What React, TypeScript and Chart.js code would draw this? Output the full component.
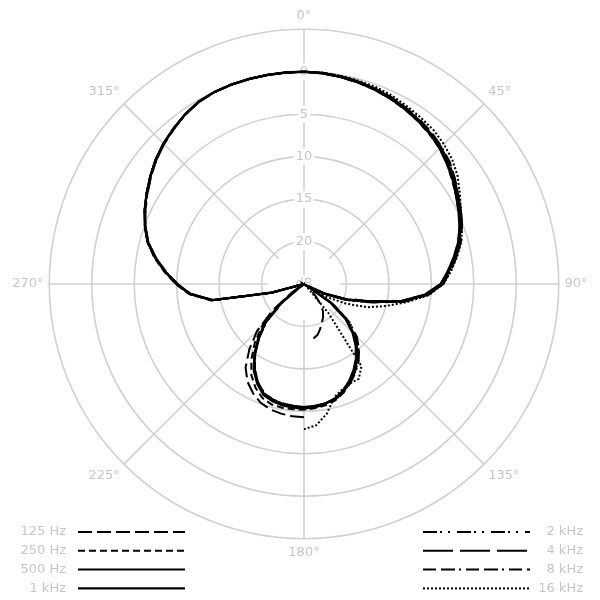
import { useEffect, useRef } from "react";
import { Chart, registerables, type ChartConfiguration, type Plugin } from "chart.js";

Chart.register(...registerables);

const FONT = "'DejaVu Sans', sans-serif";
const GRID = "#d0d0d0";
const TEXT = "#c6c6c6";

// bearing of each sample, clockwise from the front of the microphone
const BEARINGS = [
  "0°", "5°", "10°", "15°", "20°", "25°", "30°", "35°", "40°", "45°", "50°", "55°",
  "60°", "65°", "70°", "75°", "80°", "85°", "90°", "95°", "100°", "105°", "110°", "115°",
  "120°", "125°", "130°", "135°", "140°", "145°", "150°", "155°", "160°", "165°", "170°", "175°",
  "180°", "185°", "190°", "195°", "200°", "205°", "210°", "215°", "220°", "225°", "230°", "235°",
  "240°", "245°", "250°", "255°", "260°", "265°", "270°", "275°", "280°", "285°", "290°", "295°",
  "300°", "305°", "310°", "315°", "320°", "325°", "330°", "335°", "340°", "345°", "350°", "355°",
];

// relative level in dB; -25 is the floor of the plot (centre)
const HZ_125 = [
  0, -0.1, -0.25, -0.4, -0.6, -0.9, -1.2, -1.55, -1.9, -2.4, -3.0, -3.6,
  -4.2, -4.8, -5.4, -6.1, -7.0, -7.9, -8.8, -10.6, -13.4, -17.0, -19.7, -22.2,
  -24.0, -24.7, -24.1, -23.2, -22.1, -21.1, -20.5, -20.0, -19.4, -18.8, -18.5, -18.4,
  -9.3, -9.35, -9.5, -9.7, -10.1, -10.8, -11.7, -13.0, -15.0, -17.2, -20.2, -23.2,
  -25, -25, -25, -21.0, -14.0, -11.5, -10.0, -8.6, -7.2, -5.9, -5.05, -4.3,
  -3.6, -2.9, -2.2, -1.6, -1.1, -0.6, -0.2, -0.05, 0, 0, 0, 0,
];
const HZ_250 = [
  0, -0.1, -0.25, -0.45, -0.65, -0.95, -1.25, -1.6, -2.0, -2.4, -3.0, -3.7,
  -4.3, -4.9, -5.5, -6.2, -7.1, -8.0, -8.9, -10.6, -13.3, -17.0, -19.6, -22.2,
  -24.5, -21.1, -18.5, -16.8, -15.5, -14.3, -13.2, -12.2, -11.4, -10.8, -10.5, -10.3,
  -10.2, -10.2, -10.2, -10.3, -10.7, -11.5, -12.6, -14.2, -16.0, -18.0, -20.8, -24.0,
  -25, -25, -25, -20.8, -13.9, -11.4, -9.9, -8.5, -7.1, -5.9, -5.05, -4.3,
  -3.6, -2.9, -2.2, -1.6, -1.1, -0.6, -0.2, -0.05, 0, 0, 0, 0,
];
const HZ_500 = [
  0, -0.1, -0.25, -0.4, -0.6, -0.9, -1.2, -1.5, -1.9, -2.3, -2.9, -3.6,
  -4.2, -4.8, -5.4, -6.1, -7.0, -7.9, -8.8, -10.5, -13.2, -16.9, -19.5, -22.1,
  -24.4, -21.0, -18.4, -16.7, -15.4, -14.2, -13.2, -12.3, -11.5, -10.9, -10.7, -10.5,
  -10.4, -10.5, -10.6, -10.8, -11.2, -12.1, -13.3, -14.9, -16.7, -18.6, -21.4, -24.5,
  -25, -25, -25, -21.0, -14.0, -11.5, -10.0, -8.6, -7.2, -5.9, -5.05, -4.3,
  -3.6, -2.9, -2.2, -1.6, -1.1, -0.6, -0.2, -0.05, 0, 0, 0, 0,
];
const KHZ_1 = [
  0, -0.05, -0.2, -0.4, -0.65, -0.9, -1.2, -1.55, -1.9, -2.4, -3.0, -3.6,
  -4.3, -4.9, -5.5, -6.2, -7.1, -8.0, -8.9, -10.7, -13.4, -17.0, -19.7, -22.3,
  -24.6, -21.2, -18.6, -16.9, -15.5, -14.3, -13.3, -12.4, -11.6, -11.0, -10.7, -10.5,
  -10.3, -10.4, -10.5, -10.7, -11.1, -12.0, -13.2, -14.8, -16.6, -18.5, -21.2, -24.2,
  -25, -25, -25, -21.2, -14.1, -11.6, -10.0, -8.6, -7.2, -6.0, -5.1, -4.3,
  -3.6, -2.9, -2.2, -1.6, -1.1, -0.6, -0.2, -0.05, 0, 0, 0, 0,
];
const KHZ_2 = [
  0, -0.05, -0.15, -0.3, -0.5, -0.8, -1.1, -1.4, -1.8, -2.2, -2.8, -3.5,
  -4.1, -4.7, -5.3, -6.0, -6.9, -7.8, -8.7, -10.3, -13.0, -16.6, -19.2, -21.8,
  -24.2, -20.8, -18.0, -16.3, -15.0, -13.9, -13.0, -12.2, -11.5, -11.0, -10.7, -10.5,
  -10.5, -10.6, -10.7, -10.9, -11.3, -12.2, -13.4, -15.0, -16.8, -18.8, -21.6, -24.6,
  -25, -25, -25, -21.1, -14.1, -11.6, -10.1, -8.7, -7.3, -6.0, -5.1, -4.4,
  -3.7, -3.0, -2.3, -1.7, -1.15, -0.65, -0.25, -0.05, 0, 0, 0, 0,
];
const KHZ_4 = [
  0, -0.05, -0.15, -0.3, -0.5, -0.75, -1.05, -1.4, -1.8, -2.2, -2.7, -3.4,
  -4.0, -4.6, -5.2, -5.9, -6.8, -7.7, -8.6, -10.4, -13.3, -17.3, -20.0, -22.4,
  -24.5, -21.1, -18.4, -16.6, -15.3, -14.1, -13.1, -12.2, -11.5, -11.0, -10.7, -10.6,
  -10.5, -10.6, -10.7, -10.9, -11.3, -12.2, -13.4, -15.0, -16.8, -18.7, -21.5, -24.6,
  -25, -25, -25, -21.1, -14.0, -11.5, -10.0, -8.6, -7.2, -6.0, -5.1, -4.3,
  -3.6, -2.9, -2.2, -1.6, -1.1, -0.6, -0.2, -0.05, 0, 0, 0, 0,
];
const KHZ_8 = [
  0, -0.05, -0.15, -0.3, -0.5, -0.7, -1.0, -1.3, -1.65, -2.1, -2.6, -3.3,
  -4.0, -4.6, -5.2, -5.9, -6.8, -7.7, -8.6, -10.3, -13.0, -16.7, -19.4, -22.0,
  -24.4, -20.8, -18.0, -16.2, -14.9, -13.8, -12.9, -12.1, -11.4, -10.9, -10.6, -10.4,
  -10.4, -10.5, -10.6, -10.8, -11.2, -12.1, -13.3, -14.9, -16.7, -18.7, -21.5, -24.6,
  -25, -25, -25, -21.1, -14.1, -11.6, -10.1, -8.7, -7.3, -6.0, -5.1, -4.4,
  -3.7, -3.0, -2.3, -1.7, -1.15, -0.65, -0.25, -0.05, 0, 0, 0, 0,
];
const KHZ_16 = [
  0, 0, -0.1, -0.2, -0.3, -0.5, -0.8, -1.05, -1.3, -1.7, -2.2, -2.9,
  -3.8, -4.6, -5.2, -5.8, -6.7, -7.6, -8.6, -10.2, -12.7, -15.0, -17.0, -19.5,
  -22.0, -24.0, -25, -24.5, -20.5, -13.2, -12.1, -12.1, -11.8, -11.2, -9.5, -8.3,
  -7.9, -10.5, -10.6, -10.8, -11.2, -12.1, -13.3, -14.9, -16.7, -18.6, -21.4, -24.5,
  -25, -25, -25, -21.0, -14.0, -11.5, -10.0, -8.6, -7.2, -5.9, -5.05, -4.3,
  -3.6, -2.9, -2.2, -1.6, -1.1, -0.6, -0.2, -0.05, 0, 0, 0, 0,
];

const SERIES = ["125 Hz", "250 Hz", "500 Hz", "1 kHz", "2 kHz", "4 kHz", "8 kHz", "16 kHz"];
const LEVELS = [HZ_125, HZ_250, HZ_500, KHZ_1, KHZ_2, KHZ_4, KHZ_8, KHZ_16];
const DASHES = [
  [14, 5],
  [7, 4],
  [],
  [],
  [14, 3, 2, 6, 2, 7],
  [30, 7],
  [13, 5, 14, 4, 2, 5],
  [2, 2],
];
const WIDTHS = [2, 2, 2, 2.4, 2, 2, 2, 2];
// front and rear halves were measured apart: last index of the front half, where they don't join
const HALF_END: (number | null)[] = [35, null, null, null, null, null, null, 36];

const FLOOR = -25;
const TOP = 5;
const SPOKE_FROM = -20.8;

const spokes: Plugin<"radar"> = {
  id: "spokes",
  beforeDatasetsDraw(chart) {
    const scale: any = chart.scales.r;
    const { ctx } = chart;
    ctx.save();
    ctx.strokeStyle = GRID;
    ctx.lineWidth = 1.6;
    BEARINGS.forEach((_, i) => {
      if (i === 0 || i % 9 !== 0) return;
      const a = scale.getPointPositionForValue(i, SPOKE_FROM);
      const b = scale.getPointPositionForValue(i, TOP);
      ctx.beginPath();
      ctx.moveTo(a.x, a.y);
      ctx.lineTo(b.x, b.y);
      ctx.stroke();
    });
    ctx.restore();
  },
};

const legend: Plugin<"radar"> = {
  id: "pairLegend",
  afterDraw(chart) {
    const { ctx } = chart;
    ctx.save();
    ctx.font = `13px ${FONT}`;
    ctx.fillStyle = TEXT;
    ctx.strokeStyle = "#000";
    ctx.textAlign = "right";
    ctx.textBaseline = "middle";
    SERIES.forEach((label, i) => {
      const left = i < 4;
      const y = 532 + (i % 4) * 18.8;
      const x0 = left ? 78 : 423;
      ctx.fillText(label, left ? 66 : 583, y);
      ctx.setLineDash(DASHES[i]);
      ctx.lineWidth = WIDTHS[i];
      ctx.beginPath();
      ctx.moveTo(x0, y);
      ctx.lineTo(x0 + 107, y);
      ctx.stroke();
    });
    ctx.restore();
  },
};

function buildDatasets() {
  return SERIES.flatMap((label, i) => {
    const style = {
      label,
      borderColor: "#000",
      borderWidth: WIDTHS[i],
      borderDash: DASHES[i],
      borderCapStyle: "butt" as const,
      fill: false,
      tension: 0,
      pointRadius: 0,
      pointHitRadius: 0,
    };
    const values = LEVELS[i];
    const cut = HALF_END[i];
    if (cut === null) return [{ ...style, data: values as (number | null)[] }];
    const last = values.length - 1;
    return [
      { ...style, data: values.map((v, k) => (k <= cut || k === last ? v : null)) },
      { ...style, data: values.map((v, k) => (k > cut ? v : null)) },
    ];
  });
}

export default function App() {
  const canvasRef = useRef<HTMLCanvasElement>(null);

  useEffect(() => {
    if (!canvasRef.current) return;
    Chart.defaults.font.family = FONT;

    const cfg: ChartConfiguration<"radar", (number | null)[], string> = {
      type: "radar",
      data: { labels: BEARINGS, datasets: buildDatasets() },
      options: {
        responsive: true,
        maintainAspectRatio: false,
        animation: false,
        events: [],
        layout: { padding: { top: 8, bottom: 39.4, left: 3, right: 0 } },
        plugins: {
          legend: { display: false },
          tooltip: { enabled: false },
        },
        scales: {
          r: {
            min: FLOOR - 0.001,
            max: TOP,
            grid: { circular: true, color: GRID, lineWidth: 1.6 },
            angleLines: {
              display: true,
              color: GRID,
              lineWidth: (c: any) => (c.index === 0 ? 1.6 : 0),
            },
            pointLabels: {
              display: true,
              padding: -2.8,
              color: TEXT,
              font: { family: FONT, size: 13 },
              callback: (label: string, i: number) => (i % 9 === 0 ? label : ""),
            },
            ticks: {
              stepSize: 5,
              color: TEXT,
              font: { family: FONT, size: 13 },
              backdropColor: "#fff",
              backdropPadding: 2,
              showLabelBackdrop: (c: any) => c.tick.value < TOP - 1,
              callback: (v) => {
                const n = Math.round(Number(v));
                if (n <= FLOOR) return "dB";
                if (n >= TOP) return "";
                return String(-n);
              },
            },
          },
        },
      },
      plugins: [spokes, legend],
    };

    const chart = new Chart(canvasRef.current, cfg);
    return () => chart.destroy();
  }, []);

  return (
    <div
      style={{ position: "fixed", left: 0, top: 0, width: 600, height: 600, background: "#fff" }}
    >
      <canvas ref={canvasRef} />
    </div>
  );
}
